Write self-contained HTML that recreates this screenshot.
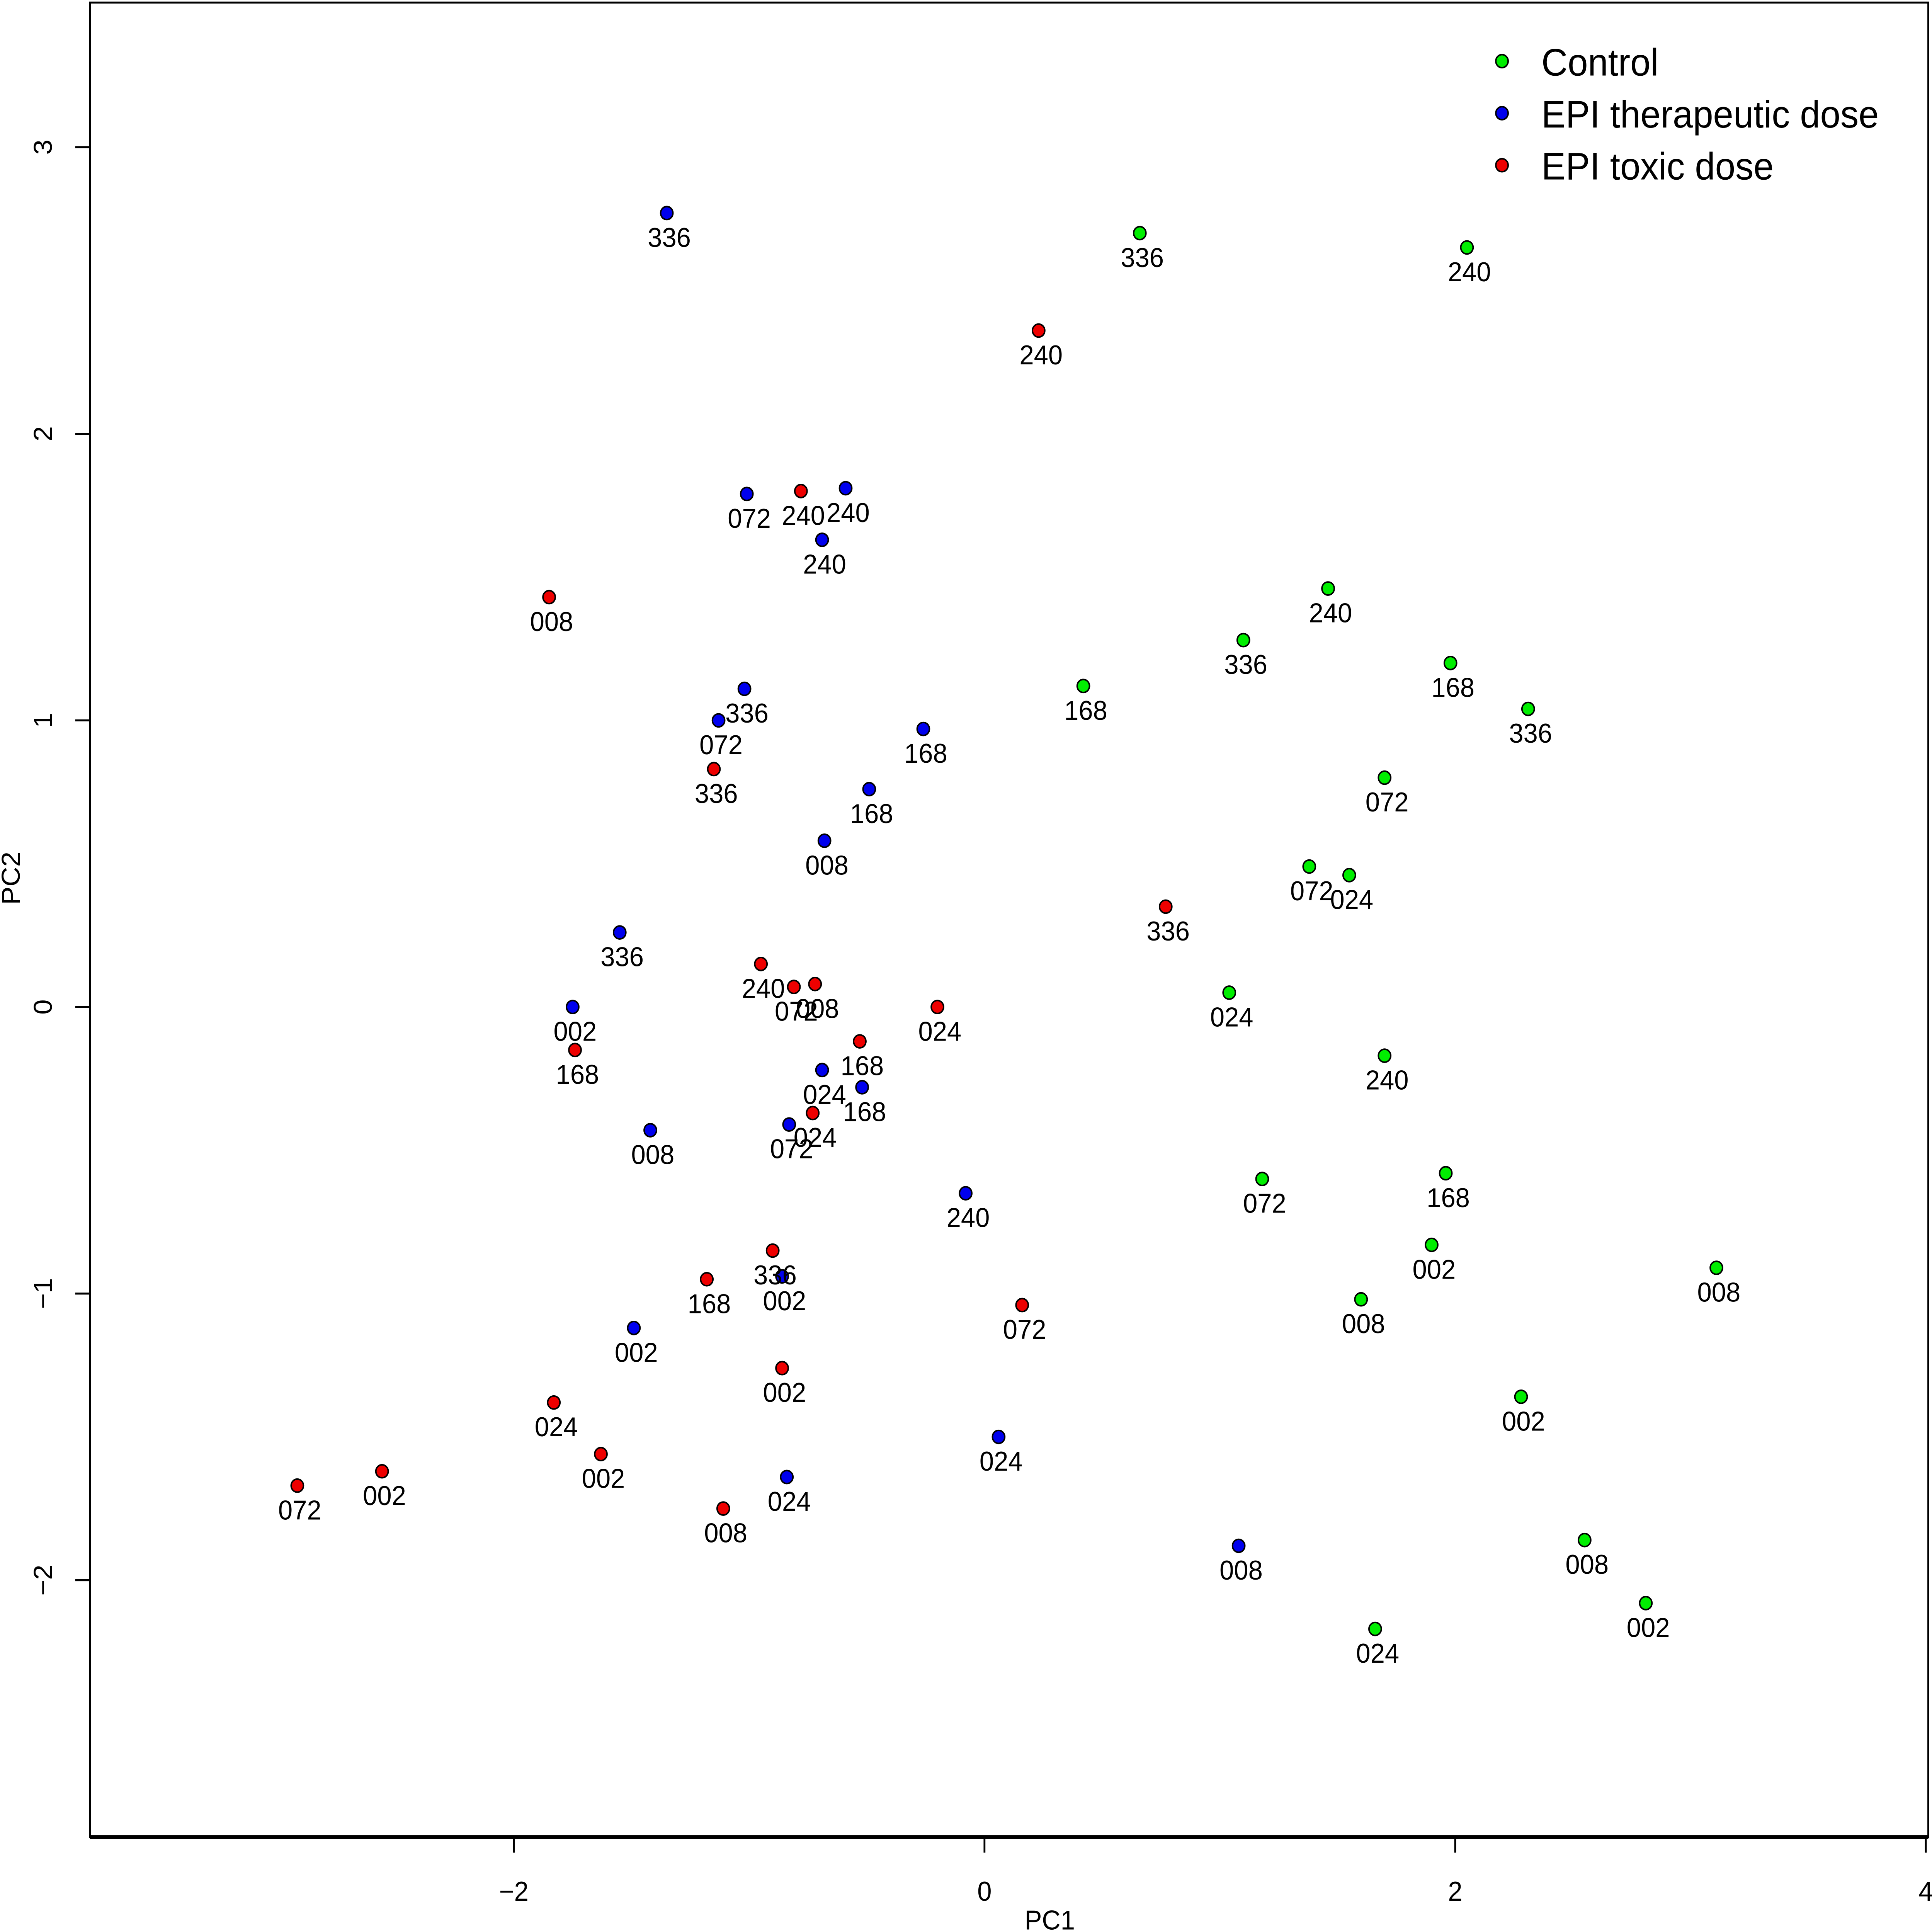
<!DOCTYPE html>
<html><head><meta charset="utf-8"><style>
html,body{margin:0;padding:0;background:#fff;overflow:hidden;width:100vw;height:100vh}
svg{display:block;position:fixed;left:0;top:0;width:100vw;height:100vh}
text{font-family:"Liberation Sans",Arial,sans-serif;fill:#000}
</style></head><body>
<svg id="chart" viewBox="0 0 1568 1485" preserveAspectRatio="none" xmlns="http://www.w3.org/2000/svg">
<rect x="73" y="2" width="1492" height="1410" fill="none" stroke="#000" stroke-width="1.5"/>
<line x1="73" y1="1412" x2="1565" y2="1412" stroke="#000" stroke-width="3"/>
<g id="xticks"></g>
<g id="yticks"></g>
<text x="852" y="1483" font-size="21" text-anchor="middle">PC1</text>
<text transform="translate(16,675) rotate(-90)" font-size="21" text-anchor="middle">PC2</text>
<g id="points"></g>
<g>
<g><circle cx="1219" cy="47" r="5" fill="#00ee00" stroke="#000" stroke-width="1.2"/><text x="1251" y="58" font-size="29.5">Control</text></g>
<g><circle cx="1219" cy="87" r="5" fill="#0000ee" stroke="#000" stroke-width="1.2"/><text x="1251" y="98" font-size="29.5">EPI therapeutic dose</text></g>
<g><circle cx="1219" cy="127" r="5" fill="#ee0000" stroke="#000" stroke-width="1.2"/><text x="1251" y="138" font-size="29.5">EPI toxic dose</text></g>
</g>
</svg>
<script>
const xTicks=[-2,0,2,4];
const yTicks=[-2,-1,0,1,2,3];
const blueX=[-1.35,-1.01,-0.59,-0.69,-1.02,-1.13,-0.26,-0.49,-0.68,-1.55,-1.75,-1.42,-0.69,-0.52,-0.83,-0.08,-0.86,-1.49,-0.84,0.06,1.08];
const blueY=[2.77,1.79,1.81,1.63,1.11,1.00,0.97,0.76,0.58,0.26,0.00,-0.43,-0.22,-0.28,-0.41,-0.65,-0.94,-1.12,-1.64,-1.50,-1.88];
const blueL=["336","072","240","240","336","072","168","168","008","336","002","008","024","168","072","240","002","002","024","024","008"];
const redX=[0.23,-0.78,-1.85,-1.15,0.77,-0.95,-0.81,-0.72,-0.20,-1.74,-0.53,-0.73,-0.90,-1.18,0.16,-0.86,-1.83,-1.63,-2.56,-2.92,-1.11];
const redY=[2.36,1.80,1.43,0.83,0.35,0.15,0.07,0.08,0.00,-0.15,-0.12,-0.37,-0.85,-0.95,-1.04,-1.26,-1.38,-1.56,-1.62,-1.67,-1.75];
const redL=["240","240","008","336","336","240","072","008","024","168","168","024","336","168","072","002","024","002","002","072","008"];
const greenX=[0.66,2.05,1.46,1.10,0.42,1.98,2.31,1.70,1.38,1.55,1.04,1.70,1.96,1.18,1.90,3.11,1.60,2.28,2.55,2.81,1.66];
const greenY=[2.70,2.65,1.46,1.28,1.12,1.20,1.04,0.80,0.49,0.46,0.05,-0.17,-0.58,-0.60,-0.83,-0.91,-1.02,-1.36,-1.86,-2.08,-2.17];
const greenL=["336","240","240","336","168","168","336","072","072","024","024","240","168","072","002","008","008","002","008","002","024"];

const NS="http://www.w3.org/2000/svg";
function sx(v){return 799+v*191;}
function sy(v){return 774-v*220.3;}
function mk(tag,attrs){const e=document.createElementNS(NS,tag);for(const k in attrs)e.setAttribute(k,attrs[k]);return e;}
const xg=document.getElementById('xticks');
xTicks.forEach(t=>{
  const l=mk('line',{x1:sx(t),x2:sx(t),y1:1412,y2:1424,stroke:'#000','stroke-width':1.5});
  
  
  xg.appendChild(l);
  const tx=mk('text',{x:sx(t),y:1461,'font-size':21,'text-anchor':'middle'});
  tx.textContent=t<0?'\u2212'+Math.abs(t):String(t);
  
  
  xg.appendChild(tx);
});
const yg=document.getElementById('yticks');
yTicks.forEach(t=>{
  const l=mk('line',{x1:61,x2:73,y1:sy(t),y2:sy(t),stroke:'#000','stroke-width':1.5});
  
  
  yg.appendChild(l);
  const tx=mk('text',{transform:`translate(42,${sy(t)}) rotate(-90)`,'font-size':21,'text-anchor':'middle'});
  tx.textContent=t<0?'\u2212'+Math.abs(t):String(t);
  
  
  yg.appendChild(tx);
});
const pg=document.getElementById('points');
function series(xs,ys,ls,color,name){
  xs.forEach((x,i)=>{
    const c=mk('circle',{cx:sx(x),cy:sy(ys[i]),r:5,fill:color,stroke:'#000','stroke-width':1.2});
    
    
    pg.appendChild(c);
    const t=mk('text',{x:sx(x)+2,y:sy(ys[i])+26,'font-size':21,'text-anchor':'middle'});
    t.textContent=ls[i];
    
    
    pg.appendChild(t);
  });
}
series(greenX,greenY,greenL,'#00ee00','control');
series(blueX,blueY,blueL,'#0000ee','therapeutic');
series(redX,redY,redL,'#ee0000','toxic');
</script>
</body></html>
